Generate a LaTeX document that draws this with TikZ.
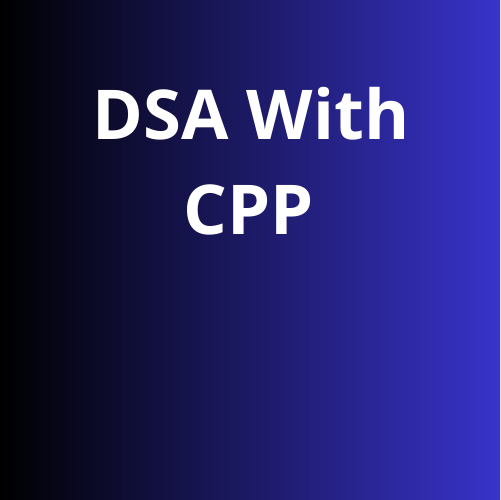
\documentclass[tikz,border=0pt]{standalone}
\usepackage{fontspec}
\setmainfont{Open Sans}
\definecolor{rightblue}{RGB}{56,51,202}
\begin{document}
\begin{tikzpicture}[x=1bp,y=1bp,
  titletext/.style={text=white,font=\fontsize{69}{80}\selectfont\bfseries,inner sep=0pt,anchor=base}]
\useasboundingbox (0,0) rectangle (500,500);
\shade[left color=black,right color=rightblue] (0,0) rectangle (500,500);
\node[titletext] (line1) at (251,360) {DSA With};
\node[titletext] (line2) at (249,265) {CPP};
\end{tikzpicture}
\end{document}
